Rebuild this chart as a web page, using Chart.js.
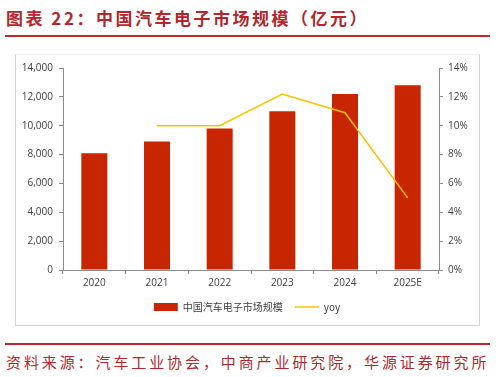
<!DOCTYPE html>
<html>
<head>
<meta charset="utf-8">
<script src="https://cdn.jsdelivr.net/npm/chart.js@4"></script>
<style>
    body { margin: 0; background: #fff; width: 496px; height: 377px; position: relative; overflow: hidden; }
    .titulo { position: absolute; left: 6px; top: 5px; font-family: "Noto Sans CJK SC"; font-weight: bold; font-size: 17px; letter-spacing: 2.5px; color: #B5262C; white-space: nowrap; }
    .linea { position: absolute; left: 5px; width: 485px; height: 2px; background: #C0282D; }
    .caja { position: absolute; left: 15px; top: 54px; width: 463px; height: 270px; border: 1px solid #d4d4d4; border-top-color: #f2f2f2; }
    #grafico { position: absolute; left: 15px; top: 54px; }
    .fuente { position: absolute; left: 6px; top: 351px; font-family: "Noto Sans CJK SC"; font-size: 15px; letter-spacing: 2.9px; color: #B5262C; white-space: nowrap; }
</style>
</head>
<body>
<div class="titulo">图表 22：中国汽车电子市场规模（亿元）</div>
<div class="linea" style="top: 35px;"></div>
<div class="caja"></div>
<canvas id="grafico" width="464" height="271"></canvas>
<div class="linea" style="top: 343px;"></div>
<div class="fuente">资料来源：汽车工业协会，中商产业研究院，华源证券研究所</div>

<script>
// ========== DATOS ==========
const years = ['2020', '2021', '2022', '2023', '2024', '2025E'];
const marketSize = [8100, 8900, 9800, 11000, 12200, 12800];
const yoyValues = [null, 10.0, 10.0, 12.2, 10.9, 5.0];
const leftTicks = [0, 2000, 4000, 6000, 8000, 10000, 12000, 14000];
const rightTicks = [0, 2, 4, 6, 8, 10, 12, 14];

const tickFont = { family: '"Open Sans", "Noto Sans"', size: 10 };
const axisColor = '#8c8c8c';

const ctx = document.getElementById('grafico').getContext('2d');

const grafico = new Chart(ctx, {
    type: 'bar',
    data: {
        labels: years,
        datasets: [{
            type: 'line',
            label: 'yoy',
            data: yoyValues,
            yAxisID: 'y1',
            borderColor: '#FFC000',
            backgroundColor: '#FFC000',
            borderWidth: 1.5,
            pointRadius: 0,
            tension: 0,
            pointStyle: 'line'
        }, {
            label: '中国汽车电子市场规模',
            data: marketSize,
            yAxisID: 'y',
            backgroundColor: '#C82600',
            categoryPercentage: 1,
            barPercentage: 0.415
        }]
    },
    options: {
        responsive: false,
        animation: false,
        layout: { padding: { top: 14, left: 0, right: 0, bottom: 3 } },
        plugins: {
            tooltip: { enabled: false },
            legend: {
                position: 'bottom',
                reverse: true,
                labels: {
                    usePointStyle: true,
                    pointStyleWidth: 24,
                    boxHeight: 8,
                    padding: 12,
                    color: '#404040',
                    font: { family: '"Noto Sans CJK SC"', size: 10 },
                    generateLabels: function(chart) {
                        const items = Chart.defaults.plugins.legend.labels.generateLabels(chart);
                        return items.map(item => {
                            const ds = chart.data.datasets[item.datasetIndex];
                            if (ds.type === 'line') {
                                item.pointStyle = 'line';
                                item.strokeStyle = '#FFC000';
                                item.lineWidth = 1.5;
                            } else {
                                item.pointStyle = 'rect';
                                item.lineWidth = 0;
                                item.strokeStyle = '#C82600';
                            }
                            return item;
                        });
                    }
                }
            }
        },
        scales: {
            x: {
                afterFit: function(scale) { scale.height = 20; },
                grid: {
                    display: true,
                    drawOnChartArea: false,
                    drawTicks: true,
                    tickLength: 4,
                    color: axisColor
                },
                border: { display: true, color: axisColor },
                ticks: { color: '#404040', font: tickFont, padding: 3 }
            },
            y: {
                position: 'left',
                min: 0,
                max: 14000,
                afterFit: function(scale) { scale.width = 48; },
                afterBuildTicks: function(scale) { scale.ticks = leftTicks.map(v => ({ value: v })); },
                grid: { drawOnChartArea: false, tickLength: 4, color: axisColor },
                border: { display: true, color: axisColor },
                ticks: {
                    color: '#404040',
                    font: tickFont,
                    padding: 6,
                    callback: function(value) { return value.toLocaleString('en-US'); }
                }
            },
            y1: {
                position: 'right',
                min: 0,
                max: 14,
                afterFit: function(scale) { scale.width = 40; },
                afterBuildTicks: function(scale) { scale.ticks = rightTicks.map(v => ({ value: v })); },
                grid: { drawOnChartArea: false, tickLength: 4, color: axisColor },
                border: { display: true, color: axisColor },
                ticks: {
                    color: '#404040',
                    font: tickFont,
                    padding: 5,
                    callback: function(value) { return value + '%'; }
                }
            }
        }
    }
});
</script>
</body>
</html>
